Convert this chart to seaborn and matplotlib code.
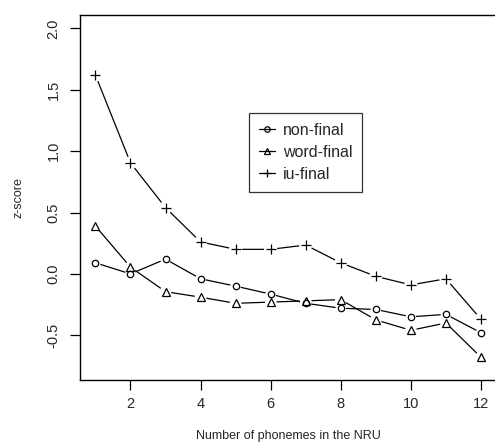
import pandas as pd
import seaborn as sns
import matplotlib.pyplot as plt

# phoneme counts and z-scores
n_phonemes = [1, 2, 3, 4, 5, 6, 7, 8, 9, 10, 11, 12]
non_final = [0.09, 0.00, 0.12, -0.04, -0.10, -0.165, -0.24, -0.28, -0.29, -0.35, -0.33, -0.48]
word_final = [0.39, 0.055, -0.145, -0.19, -0.24, -0.23, -0.22, -0.21, -0.375, -0.46, -0.40, -0.68]
iu_final = [1.62, 0.905, 0.54, 0.26, 0.20, 0.20, 0.235, 0.09, -0.02, -0.09, -0.04, -0.37]

series = [("non-final", non_final, "o", 4.6),
          ("word-final", word_final, "^", 5.4),
          ("iu-final", iu_final, "+", 6.5)]

sns.set_style("ticks")
plt.rcParams['font.family'] = ['Liberation Sans', 'DejaVu Sans']

fig = plt.figure(figsize=(4.95, 4.47), dpi=100)
ax = fig.add_axes([80 / 495, 1 - 380 / 447, 416.4 / 495, 365 / 447])

# lines first, then white halos to get R's type="b" gaps, then the symbols
for name, vals, mk, ms in series:
    df = pd.DataFrame({"n": n_phonemes, "z": vals})
    sns.lineplot(data=df, x="n", y="z", ax=ax, color="black", lw=0.9, zorder=2)
for name, vals, mk, ms in series:
    df = pd.DataFrame({"n": n_phonemes, "z": vals})
    sns.scatterplot(data=df, x="n", y="z", ax=ax, marker="o", s=(ms + 3) ** 2,
                    color="white", edgecolor="none", zorder=3)
handles = []
for name, vals, mk, ms in series:
    df = pd.DataFrame({"n": n_phonemes, "z": vals})
    ax.plot(df["n"], df["z"], linestyle="none", marker=mk, markersize=ms,
            markerfacecolor="none", markeredgecolor="black",
            markeredgewidth=0.9, zorder=4)
    h, = ax.plot([], [], color="black", lw=0.9, marker=mk, markersize=ms * 0.85,
                 markerfacecolor="none", markeredgecolor="black", markeredgewidth=0.9)
    handles.append((h, name))

ax.set_xlim(0.56, 12.44)
ax.set_ylim(-0.865, 2.11)
ax.set_xticks([2, 4, 6, 8, 10, 12])
ax.set_yticks([-0.5, 0.0, 0.5, 1.0, 1.5, 2.0])
ax.set_yticklabels(["-0.5", "0.0", "0.5", "1.0", "1.5", "2.0"], rotation=90, va="center")
ax.tick_params(axis="both", labelsize=10.5, length=7, width=0.9, direction="out", color="black")
ax.tick_params(axis="x", pad=5)
ax.tick_params(axis="y", pad=7)
for sp in ax.spines.values():
    sp.set_linewidth(1.0)
    sp.set_color("black")
    sp.set_visible(True)

ax.set_xlabel("Number of phonemes in the NRU", fontsize=9, labelpad=14)
ax.set_ylabel("z-score", fontsize=9, labelpad=16)

leg = ax.legend([h for h, _ in handles], [n for _, n in handles],
                loc="upper left", bbox_to_anchor=(0.406, 0.7315), borderaxespad=0,
                frameon=True, fancybox=False, edgecolor="black", fontsize=11.5,
                handlelength=1.0, handletextpad=0.5, borderpad=0.6,
                labelspacing=0.45)
leg.get_frame().set_linewidth(0.9)

fig.savefig("out.png", dpi=100)
